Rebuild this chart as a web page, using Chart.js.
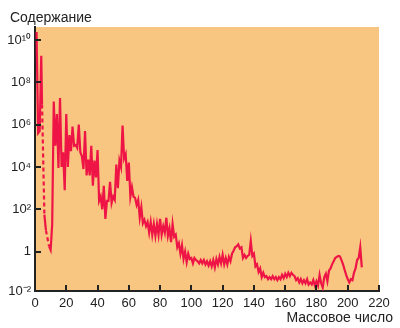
<!DOCTYPE html>
<html>
<head>
<meta charset="utf-8">
<script src="https://cdn.jsdelivr.net/npm/chart.js@4"></script>
<style>
  body { margin: 0; background: #ffffff; }
  #wrap { width: 400px; height: 328px; }
</style>
</head>
<body>
<div id="wrap"><canvas id="myChart" width="400" height="328"></canvas></div>
<script>
// mass numbers (A = 5 and A = 8 have no stable nuclei, the gap is dashed)
const massNumbers = [
  1, 2, 3, 4, 4.5, 6, 7, 9, 10, 11,
  12, 13, 14, 15, 16, 17, 18, 19, 20, 21, 22, 23, 24, 25, 26, 27, 28, 29, 30,
  31, 32, 33, 34, 35, 36, 37, 38, 39, 40, 41, 42, 43, 44, 45, 46, 47, 48, 49, 50,
  51, 52, 53, 54, 55, 56, 57, 58, 59, 60, 61, 62, 63, 64, 65, 66, 67, 68, 69, 70,
  71, 72, 73, 74, 75, 76, 77, 78, 79, 80, 81, 82, 83, 84, 85, 86, 87, 88, 89, 90,
  91, 92, 93, 94, 95, 96, 97, 98, 99, 100, 101, 102, 103, 104, 105, 106, 107, 108, 109, 110,
  111, 112, 113, 114, 115, 116, 117, 118, 119, 120, 121, 122, 123, 124, 125, 126, 127, 128, 129, 130,
  131, 132, 133, 134, 135, 136, 137, 138, 139, 140, 141, 142, 143, 144, 145, 146, 147, 148, 149, 150,
  151, 152, 153, 154, 155, 156, 157, 158, 159, 160, 161, 162, 163, 164, 165, 166, 167, 168, 169, 170,
  171, 172, 173, 174, 175, 176, 177, 178, 179, 180, 181, 182, 183, 184, 185, 186, 187, 188, 189, 190,
  191, 192, 193, 194, 195, 196, 197, 198, 199, 200, 201, 202, 203, 204, 205, 206, 207, 208, 209,
];

// relative abundance
const abundance = [
  2.4e10, 4e5, 5e5, 1.8e9, 9e6, 56, 10, 1.8, 1.2, 20,
  1.25e7, 1e5, 3.2e6, 9e3, 1.8e7, 1e4, 5e4, 8e2, 3.2e6, 1e4, 3.2e5, 5.6e4, 8e5, 1e5, 1.1e5, 8e4, 1e6, 5e4, 3.2e4,
  8e3, 5e5, 4e3, 2.2e4, 4e3, 1e5, 1.3e3, 2e4, 3.2e3, 6.3e4, 250, 400, 100, 1.3e3, 35, 250, 250, 2e3, 200, 400,
  280, 1.3e4, 1e3, 2e4, 1e4, 9e5, 2.5e4, 4e4, 2.2e3, 1.6e4, 400, 1.1e3, 400, 350, 160, 280, 40, 125, 22, 32,
  16, 25, 8, 25, 6.3, 20, 5.6, 20, 6.3, 35, 6.3, 16, 8, 40, 5.6, 12.5, 2.8, 20, 5, 6.3,
  1.6, 2.5, 0.8, 2, 0.45, 1, 0.32, 0.8, 0.45, 0.5, 0.28, 0.5, 0.4, 0.35, 0.28, 0.4, 0.28, 0.4, 0.25, 0.35,
  0.22, 0.35, 0.2, 0.4, 0.18, 0.45, 0.25, 0.56, 0.28, 0.7, 0.25, 0.5, 0.25, 0.56, 0.35, 0.8, 1.1, 1.6, 1.8, 2.2,
  1.4, 1.6, 0.5, 0.7, 0.5, 0.63, 0.7, 3.2, 0.63, 0.8, 0.2, 0.25, 0.11, 0.16, 0.063, 0.1, 0.063, 0.07, 0.05, 0.063,
  0.05, 0.07, 0.05, 0.063, 0.045, 0.063, 0.05, 0.08, 0.056, 0.09, 0.063, 0.1, 0.07, 0.1, 0.08, 0.07, 0.045, 0.056, 0.035, 0.05,
  0.032, 0.045, 0.032, 0.05, 0.028, 0.035, 0.028, 0.045, 0.025, 0.04, 0.025, 0.08, 0.032, 0.02, 0.063, 0.09, 0.04, 0.125, 0.16, 0.25,
  0.35, 0.5, 0.56, 0.63, 0.6, 0.4, 0.25, 0.14, 0.08, 0.05, 0.035, 0.05, 0.045, 0.1, 0.16, 0.4, 0.5, 1.6, 0.18,
];

const xTicks = [0, 20, 40, 60, 80, 100, 120, 140, 160, 180, 200, 220];
const yTicks = [1e-2, 1, 1e2, 1e4, 1e6, 1e8, 1e10];
const yTickLabels = ["10⁻²", "1", "10²", "10⁴", "10⁶", "10⁸", "10¹⁰"];

const yMin = 0.0138;
const yMax = 4.1e10;

const plotBackground = {
  id: "plotBackground",
  beforeDraw(chart) {
    const { ctx, chartArea } = chart;
    ctx.save();
    ctx.fillStyle = "#f8c681";
    ctx.fillRect(chartArea.left, chartArea.top, chartArea.right - chartArea.left, chartArea.bottom - chartArea.top);
    ctx.restore();
  },
};

// tick marks point into the plot, and the two captions sit outside the axes
const innerTicks = {
  id: "innerTicks",
  afterDraw(chart) {
    const { ctx, chartArea, scales } = chart;
    ctx.save();
    ctx.strokeStyle = "#222";
    ctx.lineWidth = 2;
    ctx.beginPath();
    scales.x.ticks.forEach((t) => {
      const px = Math.round(scales.x.getPixelForValue(t.value));
      ctx.moveTo(px, chartArea.bottom);
      ctx.lineTo(px, chartArea.bottom - 6);
    });
    scales.y.ticks.forEach((t) => {
      const py = Math.round(scales.y.getPixelForValue(t.value));
      ctx.moveTo(chartArea.left, py);
      ctx.lineTo(chartArea.left + 6, py);
    });
    ctx.stroke();

    ctx.fillStyle = "#222";
    ctx.font = "14px 'Liberation Sans', Arial, sans-serif";
    ctx.textAlign = "left";
    ctx.textBaseline = "alphabetic";
    ctx.fillText("Содержание", 10, 22);
    ctx.textAlign = "right";
    ctx.fillText("Массовое число", 393, 322);
    ctx.restore();
  },
};

const ctx = document.getElementById("myChart").getContext("2d");

const data = {
  labels: massNumbers,
  datasets: [
    {
      label: "Содержание",
      data: massNumbers.map((a, i) => ({ x: a, y: abundance[i] })),
      borderColor: "#ee1446",
      borderWidth: 2.2,
      pointRadius: 0,
      tension: 0,
      fill: false,
      segment: {
        borderDash: (c) => (c.p1.parsed.x - c.p0.parsed.x > 1.1 ? [4, 3] : undefined),
      },
    },
  ],
};

const config = {
  type: "line",
  data: data,
  options: {
    responsive: false,
    animation: false,
    layout: {
      padding: { top: 27, right: 21, left: 0, bottom: 0 },
    },
    plugins: {
      legend: { display: false },
      tooltip: { enabled: false },
    },
    scales: {
      x: {
        type: "linear",
        min: 0,
        max: 220,
        grid: { display: false, drawTicks: false },
        border: { display: true, color: "#222", width: 2 },
        afterBuildTicks: (scale) => {
          scale.ticks = xTicks.map((v) => ({ value: v }));
        },
        afterFit: (scale) => {
          scale.height = 37;
        },
        ticks: {
          color: "#222",
          padding: 5,
          maxRotation: 0,
          font: { size: 13, family: "'Liberation Sans', Arial, sans-serif" },
        },
      },
      y: {
        type: "logarithmic",
        min: yMin,
        max: yMax,
        grid: { display: false, drawTicks: false },
        border: { display: true, color: "#222", width: 2 },
        afterBuildTicks: (scale) => {
          scale.ticks = yTicks.map((v) => ({ value: Math.max(v, yMin) }));
        },
        afterFit: (scale) => {
          scale.width = 35;
        },
        ticks: {
          color: "#222",
          padding: 4,
          font: { size: 13, family: "'Liberation Sans', Arial, sans-serif" },
          callback: (value, index) => yTickLabels[index],
        },
      },
    },
  },
  plugins: [plotBackground, innerTicks],
};

const myChart = new Chart(ctx, config);
</script>
</body>
</html>
